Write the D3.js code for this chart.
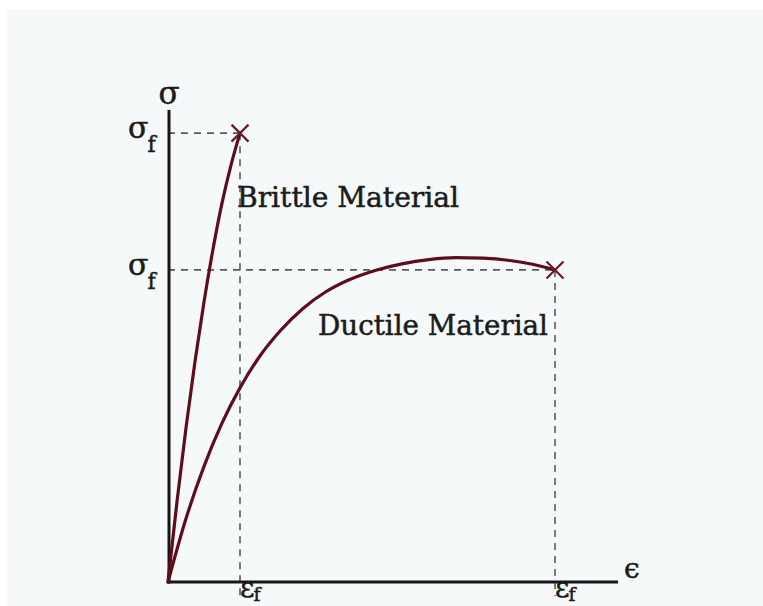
<!DOCTYPE html>
<html>
<head>
<meta charset="utf-8">
<script src="https://cdn.jsdelivr.net/npm/d3@7"></script>
<style>
  html, body { margin: 0; padding: 0; background: #ffffff; }
  svg { display: block; }
</style>
</head>
<body>
<svg id="chart" width="763" height="606"></svg>
<script>
// Stress-strain curves (arbitrary units: strain 0-100, stress 0-100)
const brittleStrain = [0, 2, 4, 6, 8, 10, 12, 14, 16];
const brittleStress = [0, 17.1, 32.8, 46.9, 59.6, 70.8, 80.6, 88.7, 95.5];

const ductileStrain = [0, 4, 8, 12, 16, 20, 25, 30, 35, 40, 46.4, 52, 58, 64, 70, 76, 81, 86];
const ductileStress = [0, 13.5, 24.6, 33.8, 41.3, 47.5, 53.5, 58.2, 61.7, 64.2, 66.4,
                       67.7, 68.6, 69.0, 68.9, 68.4, 67.6, 66.4];

// Failure points (fracture strain / fracture stress)
const failureStrain = [16, 86];
const failureStress = [95.5, 66.4];

const materialLabels = ["Brittle Material", "Ductile Material"];
const axisLabels = ["σ", "ϵ"];

const svg = d3.select("#chart");
const W = 763, H = 606;

// panel background
svg.append("rect").attr("x", 7).attr("y", 9).attr("width", W - 7).attr("height", H - 9)
  .attr("fill", "#f5f9fa");

const x = d3.scaleLinear().domain([0, 100]).range([168, 618]);
const y = d3.scaleLinear().domain([0, 100]).range([582, 112]);

const curveColor = "#5e0d1c";
const dashColor = "#5a5a5a";

// dashed guide lines to the failure points
failureStrain.forEach((s, i) => {
  const st = failureStress[i];
  svg.append("line")
    .attr("x1", x(0)).attr("x2", x(s)).attr("y1", y(st)).attr("y2", y(st))
    .attr("stroke", dashColor).attr("stroke-width", 1.6).attr("stroke-dasharray", "7,6");
  svg.append("line")
    .attr("x1", x(s)).attr("x2", x(s)).attr("y1", y(st)).attr("y2", y(0) + 14)
    .attr("stroke", dashColor).attr("stroke-width", 1.6).attr("stroke-dasharray", "7,6");
});

// axes
svg.append("line").attr("x1", x(0) + 1).attr("x2", x(0) + 1).attr("y1", y(100) - 2).attr("y2", y(0) + 1.5)
  .attr("stroke", "#161616").attr("stroke-width", 3);
svg.append("line").attr("x1", x(0)).attr("x2", x(100)).attr("y1", y(0)).attr("y2", y(0))
  .attr("stroke", "#161616").attr("stroke-width", 3);

// curves
const line = d3.line().x(d => x(d[0])).y(d => y(d[1])).curve(d3.curveMonotoneX);
[[brittleStrain, brittleStress], [ductileStrain, ductileStress]].forEach(([xs, ys]) => {
  svg.append("path")
    .datum(xs.map((v, i) => [v, ys[i]]))
    .attr("d", line)
    .attr("fill", "none")
    .attr("stroke", curveColor)
    .attr("stroke-width", 3.2)
    .attr("stroke-linecap", "round");
});

// fracture markers
failureStrain.forEach((s, i) => {
  const cx = x(s), cy = y(failureStress[i]), r = 8.5;
  svg.append("path")
    .attr("d", `M${cx - r},${cy - r}L${cx + r},${cy + r}M${cx - r},${cy + r}L${cx + r},${cy - r}`)
    .attr("stroke", "#6a1a2a").attr("stroke-width", 2.2).attr("fill", "none");
});

const serif = "'DejaVu Serif', 'Liberation Serif', serif";
const textColor = "#1c1c1c";
function ink(sel) {
  return sel.attr("font-family", serif).attr("fill", textColor)
    .attr("stroke", textColor).attr("stroke-width", 0.5);
}

// axis symbols
ink(svg.append("text")).attr("x", x(0) + 1).attr("y", 104).attr("text-anchor", "middle")
  .attr("font-size", 31).text(axisLabels[0]);
ink(svg.append("text")).attr("x", 624).attr("y", 578)
  .attr("font-size", 28).text(axisLabels[1]);

// σ_f labels on the stress axis
failureStress.forEach(st => {
  const t = ink(svg.append("text")).attr("x", 128).attr("y", y(st) + 5);
  t.append("tspan").attr("font-size", 30).text("σ");
  t.append("tspan").attr("font-size", 22).attr("dx", -1).attr("dy", 14).text("f");
});

// ε_f labels on the strain axis
failureStrain.forEach(s => {
  const t = ink(svg.append("text")).attr("x", x(s)).attr("y", 597);
  t.append("tspan").attr("font-size", 28).text("ε");
  t.append("tspan").attr("font-size", 19).attr("dx", -1).attr("dy", 4).text("f");
});

// material labels
ink(svg.append("text")).attr("x", 237).attr("y", 207)
  .attr("font-size", 27)
  .attr("textLength", 222).attr("lengthAdjust", "spacingAndGlyphs")
  .text(materialLabels[0]);
ink(svg.append("text")).attr("x", 318).attr("y", 335)
  .attr("font-size", 27)
  .attr("textLength", 230).attr("lengthAdjust", "spacingAndGlyphs")
  .text(materialLabels[1]);
</script>
</body>
</html>
